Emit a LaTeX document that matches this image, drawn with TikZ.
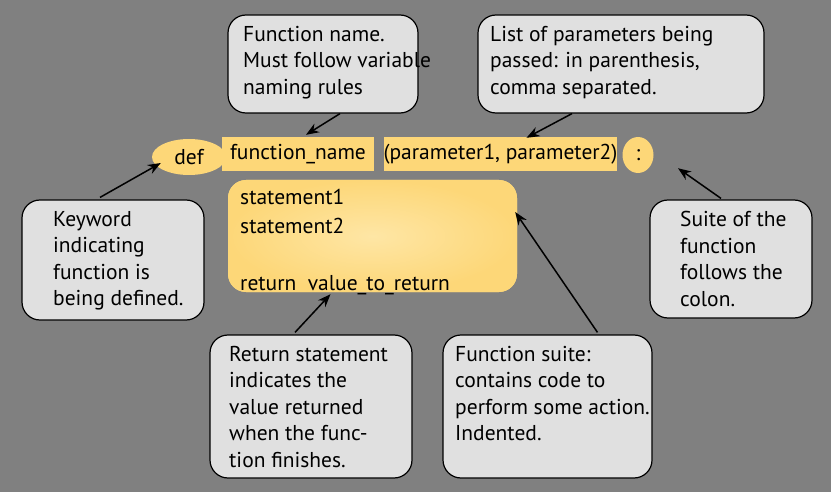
\documentclass[tikz,border=0pt]{standalone}
\usepackage{fontspec}
\setmainfont{PT Sans}
\usetikzlibrary{shapes.geometric,arrows.meta,calc}
\definecolor{bg}{RGB}{128,128,128}
\definecolor{boxfill}{RGB}{224,224,224}
\definecolor{yel}{RGB}{253,215,120}
\definecolor{yellight}{RGB}{254,230,165}
\begin{document}
\begin{tikzpicture}[x=1pt,y=-1pt,
  note/.style={draw=black,line width=1.2pt,fill=boxfill,rounded corners=18pt,inner sep=0pt},
  notetext/.style={anchor=north west,inner sep=0pt,align=left,font=\fontsize{21.5}{26.5}\selectfont},
  ybox/.style={fill=yel,draw=none,inner sep=0pt,font=\fontsize{21.5}{23}\selectfont},
  code/.style={anchor=north west,inner sep=0pt,align=left,font=\fontsize{21.5}{28.5}\selectfont},
  arr/.style={line width=1.5pt,-{Stealth[length=13pt,width=10pt]}}]
\path[fill=bg] (0,0) rectangle (831,492);
\useasboundingbox (0,0) rectangle (831,492);
% yellow code elements
\node[ybox,ellipse,minimum width=74pt,minimum height=36pt] (defn) at (189,157) {def};
\node[ybox,rectangle,minimum width=152pt,minimum height=34pt] (fname) at (298,154) {function\_name};
\node[ybox,rectangle,minimum width=233pt,minimum height=34pt] (params) at (500.5,154) {(parameter1, parameter2)};
\node[ybox,ellipse,minimum width=31pt,minimum height=36pt] (colon) at (638,155) {:};
\node[ybox,rectangle,rounded corners=18pt,minimum width=289pt,minimum height=112pt,
      inner color=yellight,outer color=yel] (body) at (372.5,236) {};
\node[code] (bodytext) at (240,189) {statement1\\statement2\\[28.5pt]return\ \ value\_to\_return};
% notes
\node[note,minimum width=190pt,minimum height=98pt] (fnbox) at (323,64) {};
\node[notetext] (fntext) at (243,26) {Function name.\\Must follow variable\\naming rules};
\node[note,minimum width=286pt,minimum height=98pt] (parbox) at (621,64) {};
\node[notetext] (partext) at (490,26) {List of parameters being\\passed: in parenthesis,\\comma separated.};
\node[note,minimum width=182pt,minimum height=120pt] (kwbox) at (113,260) {};
\node[notetext] (kwtext) at (53,211) {Keyword\\indicating\\function is\\being defined.};
\node[note,minimum width=162pt,minimum height=118pt] (colbox) at (731,259) {};
\node[notetext] (coltext) at (680,211) {Suite of the\\function\\follows the\\colon.};
\node[note,minimum width=202pt,minimum height=143pt] (retbox) at (311,406.5) {};
\node[notetext] (rettext) at (229,346) {Return statement\\indicates the\\value returned\\when the func-\\tion finishes.};
\node[note,draw=none,minimum width=209pt,minimum height=143pt] (suitebox) at (547.5,406.5) {};
\node[notetext] (suitetext) at (455,346) {Function suite:\\contains code to\\perform some action.\\Indented.};
\node[note,fill=none,minimum width=209pt,minimum height=143pt] (suiteborder) at (suitebox) {};
% arrows
\draw[arr] ($(fnbox.south)+(17,0)$) -- ($(fname.north)+(8,-2)$);
\draw[arr] ($(parbox.south)+(-49,0)$) -- ($(params.north)+(26,1)$);
\draw[arr] ($(kwbox.north)+(-13,-2)$) -- ($(defn.west)+(9,6)$);
\draw[arr] ($(colbox.north)+(-10,-1)$) -- ($(colon.south)+(40,-5)$);
\draw[arr] ($(retbox.north)+(-16,-2)$) -- ($(body.south)+(-42,2)$);
\draw[arr] ($(suitebox.north)+(50,-2)$) -- ($(body.east)+(-2,-24)$);
\end{tikzpicture}
\end{document}
